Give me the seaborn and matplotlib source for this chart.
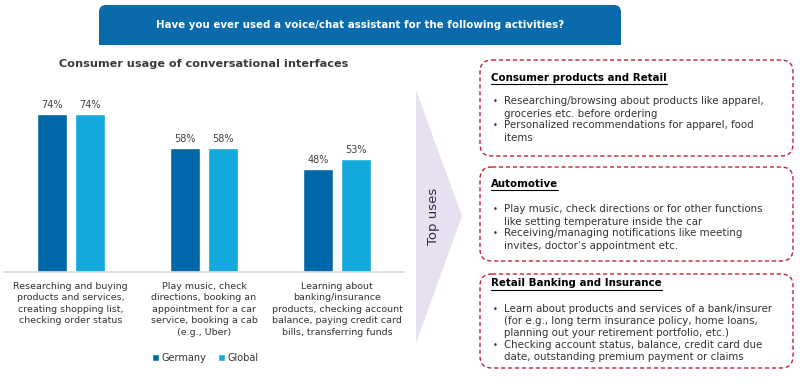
import matplotlib
matplotlib.use("Agg")
import matplotlib.pyplot as plt
import seaborn as sns
import pandas as pd
from matplotlib.patches import FancyBboxPatch, Rectangle, Polygon

# data
categories = [
    "Researching and buying\nproducts and services,\ncreating shopping list,\nchecking order status",
    "Play music, check\ndirections, booking an\nappointment for a car\nservice, booking a cab\n(e.g., Uber)",
    "Learning about\nbanking/insurance\nproducts, checking account\nbalance, paying credit card\nbills, transferring funds",
]
germany = [74, 58, 48]
global_ = [74, 58, 53]
series = ["Germany", "Global"]

header = "Have you ever used a voice/chat assistant for the following activities?"
subtitle = "Consumer usage of conversational interfaces"

boxes = [
    ("Consumer products and Retail",
     ["Researching/browsing about products like apparel,\ngroceries etc. before ordering",
      "Personalized recommendations for apparel, food\nitems"]),
    ("Automotive",
     ["Play music, check directions or for other functions\nlike setting temperature inside the car",
      "Receiving/managing notifications like meeting\ninvites, doctor\u2019s appointment etc."]),
    ("Retail Banking and Insurance",
     ["Learn about products and services of a bank/insurer\n(for e.g., long term insurance policy, home loans,\nplanning out your retirement portfolio, etc.)",
      "Checking account status, balance, credit card due\ndate, outstanding premium payment or claims"]),
]

df = pd.DataFrame({
    "cat": categories * 2,
    "value": germany + global_,
    "region": [series[0]] * 3 + [series[1]] * 3,
})

sns.set_style("white")
plt.rcParams["font.family"] = ["DejaVu Sans"]

W, H = 800, 381
fig = plt.figure(figsize=(8, 3.81), dpi=100)

# overlay axes in pixel coords for the decorations
ov = fig.add_axes([0, 0, 1, 1])
ov.set_xlim(0, W)
ov.set_ylim(H, 0)
ov.axis("off")

# header bar
hcol = "#0b6aab"
ov.add_patch(FancyBboxPatch((99, 5), 522, 40, boxstyle="round,pad=0,rounding_size=7",
                            fc=hcol, ec="none"))
ov.add_patch(Rectangle((99, 30), 522, 15, fc=hcol, ec="none"))
ov.text(360, 25, header, color="white", fontsize=7.4, fontweight="bold",
        ha="center", va="center")

ov.text(204, 64, subtitle, color="#3a3a3a", fontsize=8.1, fontweight="bold",
        ha="center", va="center")

# chevron
ov.add_patch(Polygon([(416, 90), (462, 216), (416, 343)], closed=True,
                     fc="#e7e0f1", ec="none"))
ov.text(434, 216, "Top uses", rotation=90, fontsize=9.5, color="#2f2a48",
        ha="center", va="center")

# dashed boxes: (top, bottom, title offset, first bullet offset)
red = "#c41f3a"
box_pos = [(60, 156, 18, 42), (167, 261, 17, 43), (274, 368, 9.5, 35)]
fig.canvas.draw()
rend = fig.canvas.get_renderer()
for (title, bullets), (y0, y1, toff, boff) in zip(boxes, box_pos):
    ov.add_patch(FancyBboxPatch((480, y0), 313, y1 - y0,
                                boxstyle="round,pad=0,rounding_size=12",
                                fc="white", ec=red, lw=1.0, ls=(0, (3, 2))))
    t = ov.text(491, y0 + toff, title, fontsize=7.4, fontweight="bold",
                color="black", ha="left", va="center")
    bb = t.get_window_extent(renderer=rend)
    ov.plot([491, 491 + bb.width], [y0 + toff + 6, y0 + toff + 6], color="black", lw=0.8)
    yy = y0 + boff
    for b in bullets:
        nlines = b.count("\n") + 1
        ov.text(493, yy, "\u2022", fontsize=6, color="#333333", ha="left", va="center")
        ov.text(504, yy - 5.5, b, fontsize=7.4, color="#333333", ha="left", va="top",
                linespacing=1.28)
        yy += nlines * 12

# bar chart
ax = fig.add_axes([4 / W, 1 - 272 / H, 400 / W, 182 / H])
ax.patch.set_alpha(0)
sns.barplot(data=df, x="cat", y="value", hue="region", ax=ax,
            palette=["#0068a8", "#14a9dc"], width=0.571, gap=0.21,
            saturation=1)
ax.set_xlim(-0.5, 2.5)
ax.set_ylim(0, 85.2)
for c in ax.containers:
    ax.bar_label(c, fmt="%d%%", padding=3, fontsize=7, color="#404040")
ax.set_xlabel("")
ax.set_ylabel("")
ax.set_yticks([])
ax.tick_params(axis="x", length=0, pad=7, labelsize=6.8, labelcolor="#333333")
for lab in ax.get_xticklabels():
    lab.set_linespacing(1.36)
for s in ["top", "left", "right"]:
    ax.spines[s].set_visible(False)
ax.spines["bottom"].set_color("#dcdcdc")
ax.spines["bottom"].set_linewidth(1.2)
ax.legend(loc="center", bbox_to_anchor=(0.503, -0.47), ncol=2, frameon=False,
          fontsize=7, handlelength=0.75, handleheight=0.75, handletextpad=0.2,
          columnspacing=1.2, labelcolor="#333333")

fig.savefig("out.png", dpi=100)
